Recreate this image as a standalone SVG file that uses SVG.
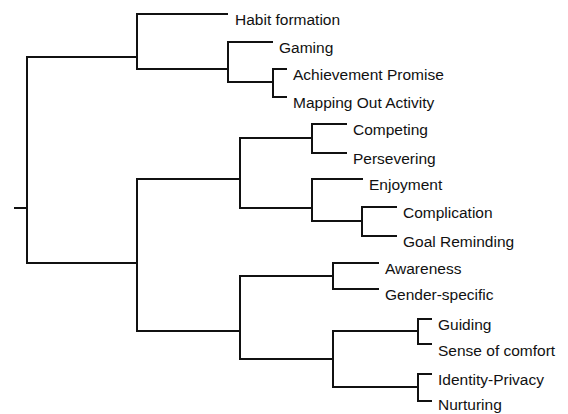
<svg xmlns="http://www.w3.org/2000/svg" width="568" height="414" viewBox="0 0 568 414">
<style>
.c{fill:none;stroke:#111;stroke-width:2;stroke-linecap:square;stroke-linejoin:miter}
.t{font-family:"Liberation Sans",Arial,sans-serif;font-size:15.5px;fill:#111}
</style>
<rect width="568" height="414" fill="#fff"/>
<g id="connectors" class="c">
<path d="M15,208H27M27,57V263M27,57H137M27,263H137"/>
<path d="M137,14V69M137,14H227M137,69H228"/>
<path d="M228,42V82M228,42H272M228,82H273"/>
<path d="M273,69V97M273,69H286M273,97H286"/>
<path d="M137,179V331M137,179H240M137,331H240"/>
<path d="M240,138V208M240,138H312M240,208H312"/>
<path d="M312,124V153M312,124H346M312,153H346"/>
<path d="M312,179V221M312,179H362M312,221H362"/>
<path d="M362,207V236M362,207H396M362,236H396"/>
<path d="M240,276V359M240,276H333M240,359H333"/>
<path d="M333,263V289M333,263H378M333,289H378"/>
<path d="M333,331V387M333,331H418M333,387H418"/>
<path d="M418,319V344M418,319H431M418,344H431"/>
<path d="M418,374V401M418,374H431M418,401H431"/>
</g>
<g id="habit-formation"><text class="t" x="235" y="25">Habit formation</text></g>
<g id="gaming"><text class="t" x="279" y="53">Gaming</text></g>
<g id="achievement-promise"><text class="t" x="293" y="80">Achievement Promise</text></g>
<g id="mapping-out-activity"><text class="t" x="293" y="108">Mapping Out Activity</text></g>
<g id="competing"><text class="t" x="353" y="135">Competing</text></g>
<g id="persevering"><text class="t" x="353" y="164">Persevering</text></g>
<g id="enjoyment"><text class="t" x="369" y="190">Enjoyment</text></g>
<g id="complication"><text class="t" x="403" y="218">Complication</text></g>
<g id="goal-reminding"><text class="t" x="403" y="247">Goal Reminding</text></g>
<g id="awareness"><text class="t" x="385" y="274">Awareness</text></g>
<g id="gender-specific"><text class="t" x="385" y="300">Gender-specific</text></g>
<g id="guiding"><text class="t" x="438" y="330">Guiding</text></g>
<g id="sense-of-comfort"><text class="t" x="438" y="356">Sense of comfort</text></g>
<g id="identity-privacy"><text class="t" x="438" y="385">Identity-Privacy</text></g>
<g id="nurturing"><text class="t" x="438" y="410">Nurturing</text></g>
</svg>
